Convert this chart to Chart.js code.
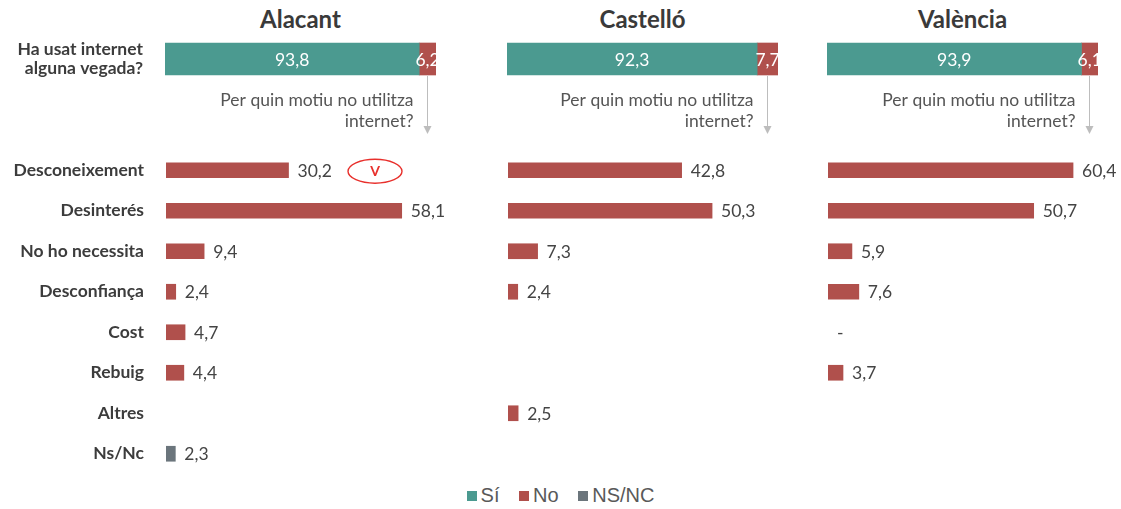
<!DOCTYPE html>
<html lang="ca">
<head>
<meta charset="UTF-8">
<title>Ús d'internet per província</title>
<script src="https://cdn.jsdelivr.net/npm/chart.js"></script>
<style>
    body {
        margin: 0;
        background: #fff;
        font-family: Lato, 'Open Sans', sans-serif;
    }
    .stage {
        position: relative;
        width: 1121px;
        height: 509px;
    }
    .stage canvas {
        position: absolute;
    }
    .title {
        position: absolute;
        top: 4px;
        width: 271px;
        text-align: center;
        font-size: 24px;
        font-weight: bold;
        color: #3a3a3a;
    }
    .legend {
        position: absolute;
        top: 484px;
        left: 0;
        width: 1121px;
        text-align: center;
        font-family: 'Liberation Sans Narrow', 'Arial Narrow', 'Liberation Sans', sans-serif;
        font-size: 20px;
        color: #595959;
    }
    .legend span.sq {
        display: inline-block;
        width: 10px;
        height: 10px;
        margin-right: 4px;
        vertical-align: 1px;
    }
    .legend span.item {
        margin: 0 7px;
    }
</style>
</head>
<body>
<div class="stage">
    <div class="title" style="left:165px">Alacant</div>
    <div class="title" style="left:507px">Castelló</div>
    <div class="title" style="left:827px">València</div>

    <canvas id="topA" width="436" height="100" style="left:0;top:39px"></canvas>
    <canvas id="topC" width="271" height="100" style="left:507px;top:39px"></canvas>
    <canvas id="topV" width="271" height="100" style="left:827px;top:39px"></canvas>

    <canvas id="botA" width="450" height="324" style="left:0;top:150px"></canvas>
    <canvas id="botC" width="293" height="324" style="left:508px;top:150px"></canvas>
    <canvas id="botV" width="293" height="324" style="left:828px;top:150px"></canvas>

    <div class="legend">
        <span class="item"><span class="sq" style="background:#4b9a90"></span>Sí</span>
        <span class="item"><span class="sq" style="background:#b0504c"></span>No</span>
        <span class="item"><span class="sq" style="background:#6b757c"></span>NS/NC</span>
    </div>
</div>

<script>
    // dades
    const provinces = ['Alacant', 'Castelló', 'València'];
    const usedYes = [93.8, 92.3, 93.9];
    const usedNo = [6.2, 7.7, 6.1];
    const topQuestion = ['Ha usat internet', 'alguna vegada?'];
    const reasonQuestion = ['Per quin motiu no utilitza', 'internet?'];

    const reasons = ['Desconeixement', 'Desinterés', 'No ho necessita', 'Desconfiança', 'Cost', 'Rebuig', 'Altres', 'Ns/Nc'];
    const alacantReasons = [30.2, 58.1, 9.4, 2.4, 4.7, 4.4, null, 2.3];
    const castelloReasons = [42.8, 50.3, 7.3, 2.4, null, null, 2.5, null];
    const valenciaReasons = [60.4, 50.7, 5.9, 7.6, 0, 3.7, null, null];

    const TEAL = '#4b9a90';
    const RED = '#b0504c';
    const GREY = '#6b757c';
    const TXT = '17.5px Lato';

    function fmt(v) {
        return v.toFixed(1).replace('.', ',');
    }

    // etiquetes blanques dins la barra apilada
    const insideLabels = {
        id: 'insideLabels',
        afterDatasetsDraw(chart) {
            const ctx = chart.ctx;
            const area = chart.chartArea;
            ctx.save();
            ctx.beginPath();
            ctx.rect(area.left, area.top, area.right - area.left, area.bottom - area.top);
            ctx.clip();
            ctx.font = TXT;
            ctx.fillStyle = '#fff';
            ctx.textAlign = 'center';
            ctx.textBaseline = 'middle';
            chart.data.datasets.forEach((ds, i) => {
                chart.getDatasetMeta(i).data.forEach((bar, j) => {
                    const cx = (bar.x + bar.base) / 2;
                    ctx.fillText(fmt(ds.data[j]), cx, bar.y + 1);
                });
            });
            ctx.restore();
        }
    };

    // fletxa i pregunta sota el "No"
    const arrowNote = {
        id: 'arrowNote',
        afterDraw(chart) {
            const ctx = chart.ctx;
            const bar = chart.getDatasetMeta(1).data[0];
            const x = Math.round((bar.x + bar.base) / 2) - 0.5;
            const y0 = bar.y + 17;
            const y1 = 95;
            ctx.save();
            ctx.strokeStyle = '#bdbdbd';
            ctx.lineWidth = 1;
            ctx.beginPath();
            ctx.moveTo(x, y0);
            ctx.lineTo(x, y1 - 6);
            ctx.stroke();
            ctx.fillStyle = '#bdbdbd';
            ctx.beginPath();
            ctx.moveTo(x - 4, y1 - 8);
            ctx.lineTo(x + 4, y1 - 8);
            ctx.lineTo(x, y1);
            ctx.closePath();
            ctx.fill();
            ctx.font = TXT;
            ctx.fillStyle = '#555';
            ctx.textAlign = 'right';
            ctx.textBaseline = 'middle';
            ctx.fillText(reasonQuestion[0], x - 14, 61);
            ctx.fillText(reasonQuestion[1], x - 14, 82);
            ctx.restore();
        }
    };

    // valors a la dreta de les barres
    const endLabels = {
        id: 'endLabels',
        afterDatasetsDraw(chart) {
            const ctx = chart.ctx;
            const ds = chart.data.datasets[0];
            ctx.save();
            ctx.font = TXT;
            ctx.fillStyle = '#444';
            ctx.textAlign = 'left';
            ctx.textBaseline = 'middle';
            chart.getDatasetMeta(0).data.forEach((bar, j) => {
                const v = ds.data[j];
                if (v === null || v === undefined) return;
                ctx.fillText(v === 0 ? '-' : fmt(v), bar.x + 9, bar.y + 1);
            });
            ctx.restore();
        }
    };

    // marca vermella al costat de Desconeixement (Alacant)
    const markV = {
        id: 'markV',
        afterDraw(chart) {
            const ctx = chart.ctx;
            const bar = chart.getDatasetMeta(0).data[0];
            const cx = 375, cy = bar.y + 1;
            ctx.save();
            ctx.strokeStyle = '#e8302c';
            ctx.lineWidth = 1.4;
            ctx.beginPath();
            ctx.ellipse(cx, cy, 27, 12, 0, 0, Math.PI * 2);
            ctx.stroke();
            ctx.fillStyle = '#e8302c';
            ctx.font = 'bold 14px Lato';
            ctx.textAlign = 'center';
            ctx.textBaseline = 'middle';
            ctx.fillText('V', cx, cy);
            ctx.restore();
        }
    };

    function labelAxis(show, width, padding) {
        if (!show) {
            return { display: false, stacked: true };
        }
        return {
            display: true,
            grid: { display: false, drawTicks: false },
            border: { display: false },
            stacked: true,
            ticks: {
                padding: padding,
                color: '#3c3c3c',
                font: { family: 'Lato', size: 17.5, weight: 'bold', lineHeight: 1.12 }
            },
            afterFit(scale) {
                scale.width = width;
                scale.paddingTop = 0;
                scale.paddingBottom = 0;
            }
        };
    }

    function topChart(id, idx, showLabels) {
        new Chart(document.getElementById(id), {
            type: 'bar',
            data: {
                labels: [topQuestion],
                datasets: [
                    { label: 'Sí', data: [usedYes[idx]], backgroundColor: TEAL, barThickness: 32 },
                    { label: 'No', data: [usedNo[idx]], backgroundColor: RED, barThickness: 32 }
                ]
            },
            options: {
                indexAxis: 'y',
                responsive: false,
                animation: false,
                layout: { padding: { top: 0, bottom: 60, left: 0, right: 0 } },
                plugins: { legend: { display: false }, tooltip: { enabled: false } },
                scales: {
                    x: { display: false, stacked: true, min: 0, max: 100 },
                    y: labelAxis(showLabels, 165, 22)
                }
            },
            plugins: [insideLabels, arrowNote]
        });
    }

    function bottomChart(id, values, showLabels, padRight, extra) {
        new Chart(document.getElementById(id), {
            type: 'bar',
            data: {
                labels: reasons,
                datasets: [{
                    label: 'No',
                    data: values,
                    backgroundColor: values.map((v, i) => v === 0 ? 'rgba(0,0,0,0)' : (i === reasons.length - 1 ? GREY : RED)),
                    barThickness: 15
                }]
            },
            options: {
                indexAxis: 'y',
                responsive: false,
                animation: false,
                layout: { padding: { top: 0, bottom: 0, left: 0, right: padRight } },
                plugins: { legend: { display: false }, tooltip: { enabled: false } },
                scales: {
                    x: { display: false, min: 0, max: 70 },
                    y: labelAxis(showLabels, 166, 22)
                }
            },
            plugins: extra ? [endLabels, extra] : [endLabels]
        });
    }

    topChart('topA', 0, true);
    topChart('topC', 1, false);
    topChart('topV', 2, false);

    bottomChart('botA', alacantReasons, true, 0, markV);
    bottomChart('botC', castelloReasons, false, 9);
    bottomChart('botV', valenciaReasons, false, 9);
</script>
</body>
</html>
